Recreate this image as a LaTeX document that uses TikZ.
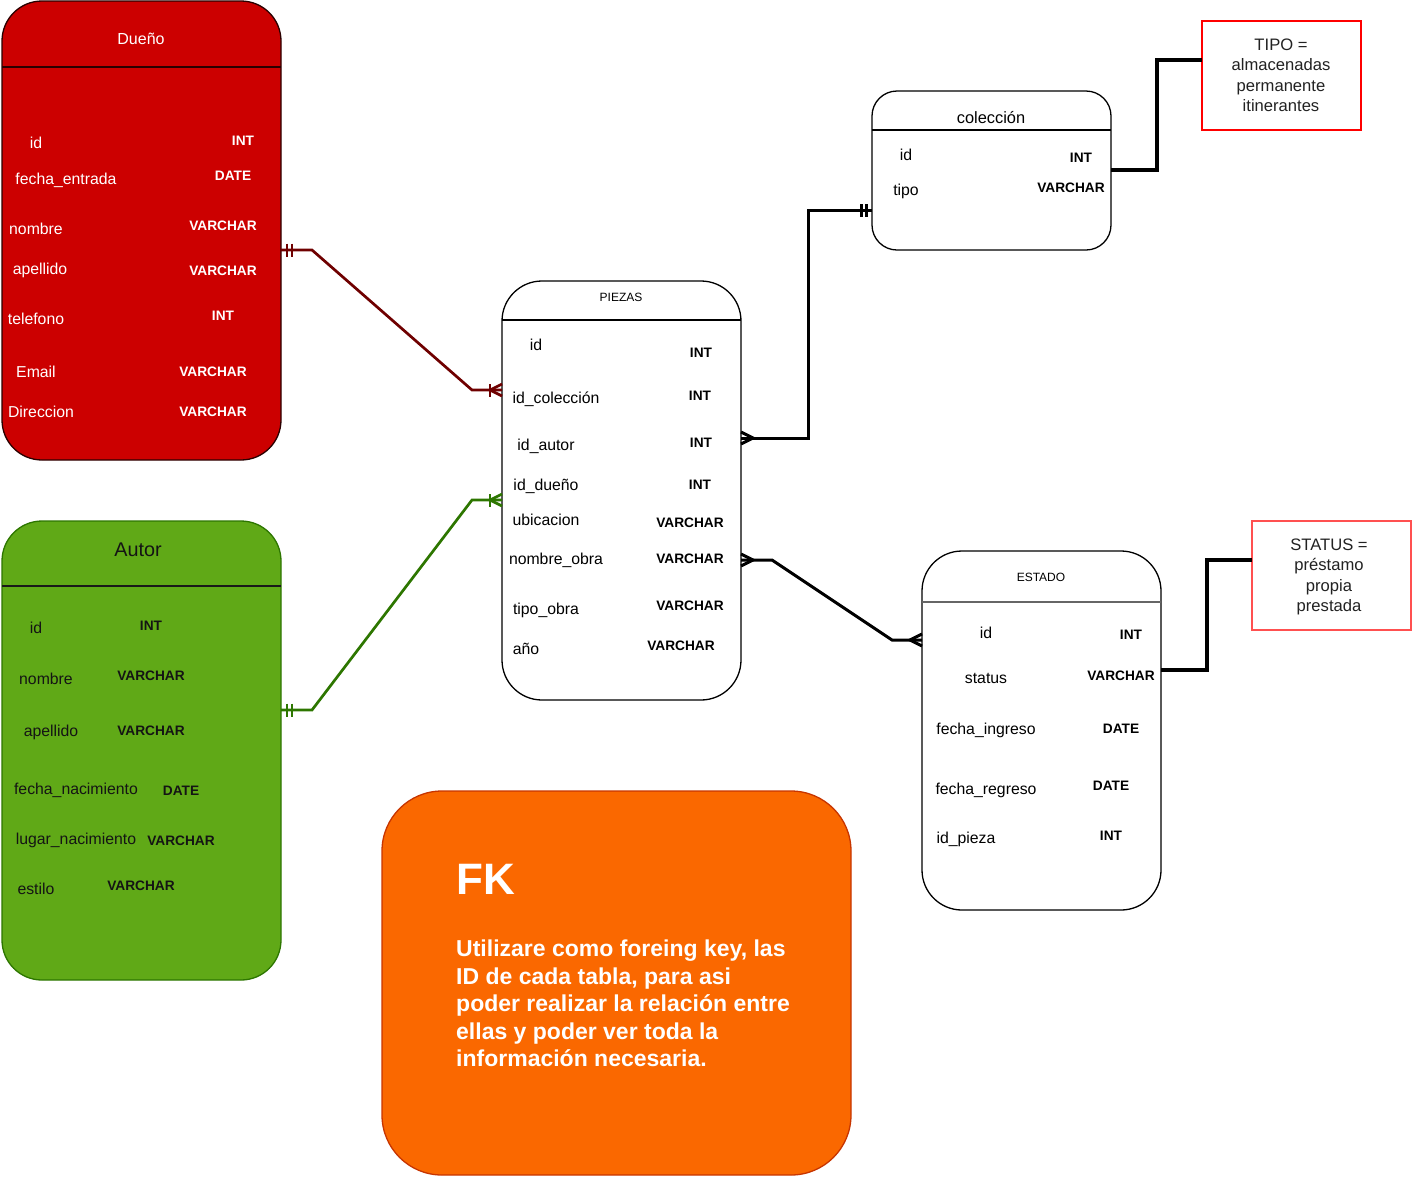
\documentclass[tikz,border=0pt]{standalone}
\usepackage{fontspec}
\setmainfont{Liberation Sans}
\definecolor{duenofill}{HTML}{CC0000}
\definecolor{duenoline}{HTML}{2A0000}
\definecolor{dred}{HTML}{6F0000}
\definecolor{autorfill}{HTML}{60A917}
\definecolor{autorline}{HTML}{2D7600}
\definecolor{fkfill}{HTML}{FA6800}
\definecolor{fkline}{HTML}{C73500}
\definecolor{notetext}{HTML}{222222}
\definecolor{statusline}{HTML}{FF5050}
\tikzset{
  crowfoot/.pic={\draw (0,-6) -- (12,0) -- (0,6);},
  onebar/.pic={\draw (12,-6.5) -- (12,6.5);},
  twobar/.pic={\draw (6,-6.5) -- (6,6.5) (11,-6.5) -- (11,6.5);}
}
\begin{document}
\begin{tikzpicture}[x=1pt,y=-1pt,
  ent/.style={draw, line width=1.3pt, anchor=north west, inner sep=0pt, outer sep=0pt},
  hdr/.style={line width=1.3pt},
  fld/.style={font=\fontsize{15.8}{19}\selectfont, inner sep=0pt, anchor=base, yshift=-6.2pt},
  typ/.style={font=\fontsize{13.7}{16}\selectfont\bfseries, inner sep=0pt, anchor=base, yshift=-5.7pt},
  ttl/.style={font=\fontsize{16}{19}\selectfont, inner sep=0pt, anchor=base, yshift=-6.3pt},
  smallttl/.style={font=\fontsize{12}{14}\selectfont, inner sep=0pt, anchor=base, yshift=-4.8pt},
  notebox/.style={draw, line width=1.3pt, fill=white, anchor=north west, minimum width=159pt, minimum height=109pt, inner sep=0pt, outer sep=0pt},
  notetxt/.style={font=\fontsize{16.6}{20.5}\selectfont, text=notetext, align=center, inner sep=0pt},
  conn/.style={line width=2.7pt},
  bconn/.style={line width=3pt},
  thickconn/.style={line width=4.8pt}
]
\useasboundingbox (0,0) rectangle (1413,1176);

% ---------- Dueño ----------
\node[ent, fill=duenofill, draw=duenoline, rounded corners=40pt, minimum width=279pt, minimum height=459pt] (dueno) at (2,1) {};
\draw[hdr, duenoline] (dueno.west |- 0,67) -- (dueno.east |- 0,67);
\node[ttl, text=white] (duenot) at (141,38) {Dueño};
\begin{scope}[every node/.append style={text=white}]
\node[fld] (d1) at (36,142) {id};
\node[typ] (d1t) at (243,140) {INT};
\node[fld] (d2) at (66,178) {fecha\_entrada};
\node[typ] (d2t) at (233,175) {DATE};
\node[fld] (d3) at (36,228) {nombre};
\node[typ] (d3t) at (223,225) {VARCHAR};
\node[fld] (d4) at (40,268) {apellido};
\node[typ] (d4t) at (223,270) {VARCHAR};
\node[fld] (d5) at (36,318) {telefono};
\node[typ] (d5t) at (223,315) {INT};
\node[fld] (d6) at (36,371) {Email};
\node[typ] (d6t) at (213,371) {VARCHAR};
\node[fld] (d7) at (41,411) {Direccion};
\node[typ] (d7t) at (213,411) {VARCHAR};
\end{scope}

% ---------- Autor ----------
\node[ent, fill=autorfill, draw=autorline, rounded corners=40pt, minimum width=279pt, minimum height=459pt] (autor) at (2,521) {};
\draw[hdr, black!90] (autor.west |- 0,586) -- (autor.east |- 0,586);
\begin{scope}[every node/.append style={text=black!92}]
\node[font=\fontsize{19.8}{23}\selectfont, inner sep=0pt, anchor=base, yshift=-7.5pt] (autort) at (138,549) {Autor};
\node[fld] (a1) at (36,627) {id};
\node[typ] (a1t) at (151,625) {INT};
\node[fld] (a2) at (46,678) {nombre};
\node[typ] (a2t) at (151,675) {VARCHAR};
\node[fld] (a3) at (51,730) {apellido};
\node[typ] (a3t) at (151,730) {VARCHAR};
\node[fld] (a4) at (76,788) {fecha\_nacimiento};
\node[typ] (a4t) at (181,790) {DATE};
\node[fld] (a5) at (76,838) {lugar\_nacimiento};
\node[typ] (a5t) at (181,840) {VARCHAR};
\node[fld] (a6) at (36,888) {estilo};
\node[typ] (a6t) at (141,885) {VARCHAR};
\end{scope}

% ---------- PIEZAS ----------
\node[ent, fill=white, rounded corners=40pt, minimum width=239pt, minimum height=419pt] (piezas) at (502,281) {};
\draw[hdr] (piezas.west |- 0,320) -- (piezas.east |- 0,320);
\node[smallttl] (piezast) at (621,297) {PIEZAS};
\node[fld] (p1) at (536,344) {id};
\node[typ] (p1t) at (701,352) {INT};
\node[fld] (p2) at (556,397) {id\_colección};
\node[typ] (p2t) at (700,395) {INT};
\node[fld] (p3) at (546,444) {id\_autor};
\node[typ] (p3t) at (701,442) {INT};
\node[fld] (p4) at (546,484) {id\_dueño};
\node[typ] (p4t) at (700,484) {INT};
\node[fld] (p5) at (546,519) {ubicacion};
\node[typ] (p5t) at (690,522) {VARCHAR};
\node[fld] (p6) at (556,558) {nombre\_obra};
\node[typ] (p6t) at (690,558) {VARCHAR};
\node[fld] (p7) at (546,608) {tipo\_obra};
\node[typ] (p7t) at (690,605) {VARCHAR};
\node[fld] (p8) at (526,648) {año};
\node[typ] (p8t) at (681,645) {VARCHAR};

% ---------- colección ----------
\node[ent, fill=white, rounded corners=25pt, minimum width=239pt, minimum height=159pt] (coleccion) at (872,91) {};
\draw[hdr] (coleccion.west |- 0,130) -- (coleccion.east |- 0,130);
\node[ttl, font=\fontsize{16.4}{19}\selectfont] (colecciont) at (991,117) {colección};
\node[fld] (c1) at (906,154) {id};
\node[typ] (c1t) at (1081,157) {INT};
\node[fld] (c2) at (906,189) {tipo};
\node[typ] (c2t) at (1071,187) {VARCHAR};

% ---------- ESTADO ----------
\node[ent, fill=white, rounded corners=40pt, minimum width=239pt, minimum height=359pt] (estado) at (922,551) {};
\draw[hdr, black!60] (estado.west |- 0,602) -- (estado.east |- 0,602);
\node[smallttl] (estadot) at (1041,577) {ESTADO};
\node[fld] (e1) at (986,632) {id};
\node[typ] (e1t) at (1131,634) {INT};
\node[fld] (e2) at (986,677) {status};
\node[typ] (e2t) at (1121,675) {VARCHAR};
\node[fld] (e3) at (986,728) {fecha\_ingreso};
\node[typ] (e3t) at (1121,728) {DATE};
\node[fld] (e4) at (986,788) {fecha\_regreso};
\node[typ] (e4t) at (1111,785) {DATE};
\node[fld] (e5) at (966,837) {id\_pieza};
\node[typ] (e5t) at (1111,835) {INT};

% ---------- notes ----------
\node[notebox, draw=red] (tipo) at (1202,21) {};
\node[notetxt] (tipot) at (1281,75.5) {TIPO =\\almacenadas\\permanente\\itinerantes};
\node[notebox, draw=statusline] (status) at (1252,521) {};
\node[notetxt] (statust) at (1329,577) {STATUS =\\préstamo\\propia\\prestada};

% ---------- FK ----------
\node[ent, fill=fkfill, draw=fkline, rounded corners=60pt, minimum width=469pt, minimum height=384pt] (fk) at (382,791) {};
\node[font=\fontsize{44}{50}\selectfont\bfseries, text=white, inner sep=0pt, anchor=base west] (fkt) at (456,894) {FK};
\node[font=\fontsize{23}{27.5}\selectfont\bfseries, text=white, inner sep=0pt, anchor=north west, align=left] (fkbody) at (456,940)
  {Utilizare como foreing key, las\\ID de cada tabla, para asi\\poder realizar la relación entre\\ellas y poder ver toda la\\información necesaria.};

% ---------- connectors ----------
\draw[conn, dred] (dueno.east |- 0,250) -- (312,250) -- (472,390) -- (piezas.west |- 0,390);
\pic[dred, line width=2.7pt] at (dueno.east |- 0,250) {twobar};
\pic[dred, line width=2.7pt, rotate=180] at (piezas.west |- 0,390) {crowfoot};
\pic[dred, line width=2.7pt, rotate=180] at (piezas.west |- 0,390) {onebar};

\draw[conn, autorline] (autor.east |- 0,710) -- (312,710) -- (472,500) -- (piezas.west |- 0,500);
\pic[autorline, line width=2.7pt] at (autor.east |- 0,710) {twobar};
\pic[autorline, line width=2.7pt, rotate=180] at (piezas.west |- 0,500) {crowfoot};
\pic[autorline, line width=2.7pt, rotate=180] at (piezas.west |- 0,500) {onebar};

\draw[bconn] (piezas.east |- 0,438) -- (808,438) -- (808,210) -- (coleccion.west |- 0,210);
\pic[line width=3pt] at (piezas.east |- 0,438) {crowfoot};
\pic[line width=3pt, rotate=180] at (coleccion.west |- 0,210) {twobar};

\draw[bconn] (piezas.east |- 0,560) -- (772,560) -- (892,640) -- (estado.west |- 0,640);
\pic[line width=3pt] at (piezas.east |- 0,560) {crowfoot};
\pic[line width=3pt, rotate=180] at (estado.west |- 0,640) {crowfoot};

\draw[thickconn] (coleccion.east |- 0,170) -- (1157,170) -- (1157,60) -- (tipo.west |- 0,60);
\draw[thickconn] (estado.east |- 0,670) -- (1207,670) -- (1207,560) -- (status.west |- 0,560);
\end{tikzpicture}
\end{document}
